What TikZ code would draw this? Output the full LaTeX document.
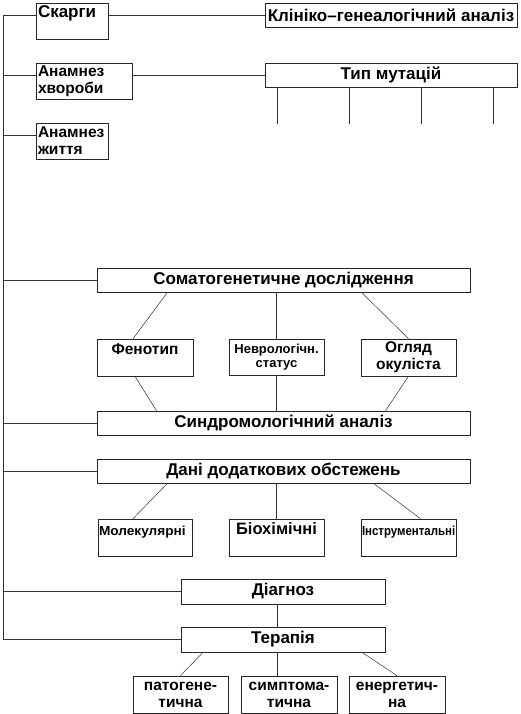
\documentclass[tikz,border=0pt]{standalone}
\usepackage{fontspec}
\setmainfont{Liberation Sans}
\usetikzlibrary{positioning,calc}

\begin{document}
\begin{tikzpicture}[x=1pt,y=-1pt,
  blk/.style={draw=black!85,line width=0.6pt,inner sep=2pt,font=\bfseries\fontsize{17}{18}\selectfont},
  two/.style={font=\bfseries\fontsize{15.5}{17}\selectfont},
  small/.style={font=\bfseries\fontsize{13}{14}\selectfont},
  conn/.style={draw=black!80,line width=0.5pt}]
\useasboundingbox (0,0) rectangle (520,714);

% left column
\node[blk,text width=68pt,minimum height=36pt,align=left] (skarhy) at (72,21) {Скарги\\\mbox{}};
\node[blk,two,text width=92pt,minimum height=36pt,align=left,inner ysep=1pt] (anhv) at (84,81) {Анамнез\\хвороби};
\node[blk,two,text width=68pt,minimum height=36pt,align=left,inner ysep=1pt] (anzh) at (72,141) {Анамнез\\життя};
\node[blk,minimum width=252pt,minimum height=24pt] (klin) at (391,15) {Клініко–генеалогічний аналіз};
\node[blk,minimum width=252pt,minimum height=24pt] (typ) at (391,75) {Тип мутацій};

% somatogenetic block
\node[blk,minimum width=373pt,minimum height=24pt] (somat) at (283.5,280) {Соматогенетичне дослідження};
\node[blk,two,text width=92pt,minimum height=37pt,align=center] (fen) at (145,357.5) {Фенотип\\\mbox{}};
\node[blk,small,text width=91pt,minimum height=36pt,align=center] (nevr) at (276.5,357) {Неврологічн.\\статус};
\node[blk,two,text width=91pt,minimum height=37pt,align=center,inner ysep=1pt] (ohl) at (408.5,357.5) {Огляд\\окуліста};
\node[blk,minimum width=373pt,minimum height=24pt] (synd) at (283.5,423) {Синдромологічний аналіз};

% additional examinations
\node[blk,minimum width=373pt,minimum height=24pt] (dani) at (283.5,471) {Дані додаткових обстежень};
\node[blk,small,text width=92pt,minimum height=37pt,align=left,inner xsep=1pt] (mol) at (145,537.5) {\scalebox{1.05}[1]{Молекулярні}\\\mbox{}};
\node[blk,two,text width=91pt,minimum height=37pt,align=center] (bio) at (276.5,537.5) {\fontsize{16.5}{17}\selectfont Біохімічні\\\mbox{}};
\node[blk,small,text width=93pt,minimum height=37pt,align=left,inner xsep=1pt] (instr) at (408.5,537.5) {\scalebox{0.88}[1]{Інструментальні}\\\mbox{}};

% diagnosis and therapy
\node[blk,minimum width=204pt,minimum height=25pt] (diag) at (283,591.5) {Діагноз};
\node[blk,minimum width=204pt,minimum height=25pt] (ter) at (283,639.5) {Терапія};
\node[blk,two,text width=91pt,minimum height=37pt,align=center,inner ysep=1pt] (pat) at (180.5,694.5) {патогене-\\тична};
\node[blk,two,text width=92pt,minimum height=37pt,align=center,inner ysep=1pt] (sym) at (289,694.5) {симптома-\\тична};
\node[blk,two,text width=92pt,minimum height=37pt,align=center,inner ysep=1pt] (ener) at (397,694.5) {енергетич-\\на};

% spine
\coordinate (top) at (3,15);
\coordinate (bot) at (3,639);
\draw[conn] (top) -- (bot);
\foreach \n in {skarhy,anhv,anzh}
  \draw[conn] ([yshift=6pt]\n.west) -- ([yshift=6pt]\n.west -| top);
\foreach \n in {somat,synd,dani,diag,ter}
  \draw[conn] (\n.west) -- (\n.west -| top);
\draw[conn] ([yshift=6pt]skarhy.east) -- (klin.west);
\draw[conn] ([yshift=6pt]anhv.east) -- (typ.west);
\foreach \x [count=\i] in {277,349,421,493} {
  \coordinate (m\i) at (\x,124);
  \draw[conn] (typ.south -| m\i) -- (m\i);
}

% branches
\draw[conn] ([xshift=-116pt]somat.south) -- ([xshift=-12pt]fen.north);
\draw[conn] (somat.south -| nevr) -- (nevr.north);
\draw[conn] ([xshift=78pt]somat.south) -- (ohl.north);
\draw[conn] ([xshift=-10pt]fen.south) -- ([xshift=-127pt]synd.north);
\draw[conn] (nevr.south) -- (nevr.south |- synd.north);
\draw[conn] (ohl.south) -- ([xshift=102pt]synd.north);
\draw[conn] ([xshift=-116pt]dani.south) -- ([xshift=-12pt]mol.north);
\draw[conn] (dani.south -| bio) -- (bio.north);
\draw[conn] ([xshift=90pt]dani.south) -- ([xshift=12pt]instr.north);
\draw[conn] ([xshift=-6pt]diag.south) -- ([xshift=-6pt]ter.north);
\draw[conn] ([xshift=-80pt]ter.south) -- (pat.north);
\draw[conn] ([xshift=-6pt]ter.south) -- ([xshift=-12pt]sym.north);
\draw[conn] ([xshift=79pt]ter.south) -- (ener.north);
\end{tikzpicture}
\end{document}
